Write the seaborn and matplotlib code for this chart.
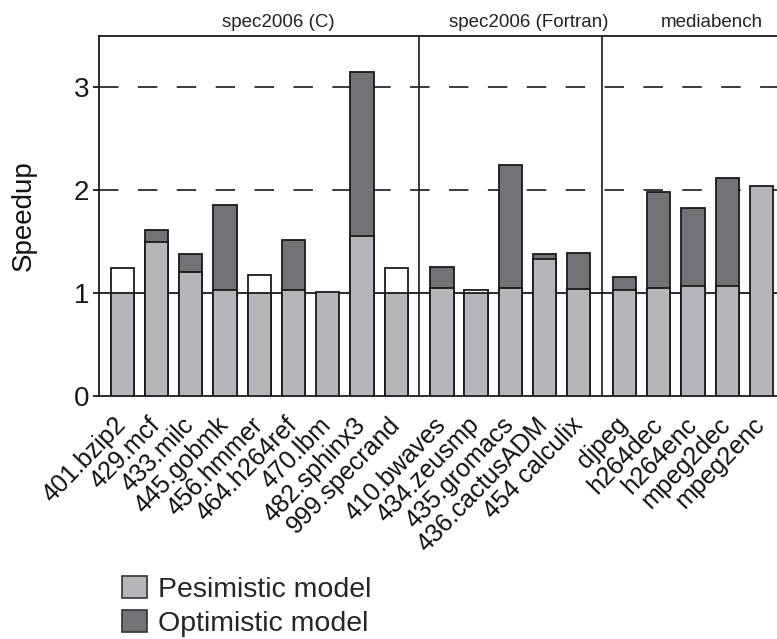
import numpy as np
import pandas as pd
import seaborn as sns
import matplotlib.pyplot as plt
import matplotlib.transforms as mtransforms
from matplotlib.patches import Patch

sns.set_theme(style="white")
plt.rcParams["font.family"] = ["Liberation Sans", "DejaVu Sans"]

# benchmarks, grouped by suite
GROUPS = ["spec2006 (C)", "spec2006 (Fortran)", "mediabench"]
BENCH_C = ["401.bzip2", "429.mcf", "433.milc", "445.gobmk", "456.hmmer",
           "464.h264ref", "470.lbm", "482.sphinx3", "999.specrand"]
BENCH_F = ["410.bwaves", "434.zeusmp", "435.gromacs", "436.cactusADM", "454 calculix"]
BENCH_M = ["djpeg", "h264dec", "h264enc", "mpeg2dec", "mpeg2enc"]

# speedups
PESSIMISTIC = [1.00, 1.50, 1.21, 1.03, 1.00, 1.03, 1.01, 1.56, 1.00,
               1.05, 1.00, 1.05, 1.33, 1.04,
               1.03, 1.05, 1.07, 1.07, 2.04]
OPTIMISTIC = [np.nan, 1.61, 1.38, 1.86, np.nan, 1.52, np.nan, 3.15, np.nan,
              1.25, np.nan, 2.25, 1.38, 1.39,
              1.16, 1.98, 1.83, 2.12, np.nan]
# unfilled (white) bar tops, not in the legend
UPPER = [1.24, np.nan, np.nan, np.nan, 1.18, np.nan, np.nan, np.nan, 1.24,
         np.nan, 1.03, np.nan, np.nan, np.nan,
         np.nan, np.nan, np.nan, np.nan, np.nan]

LIGHT = "#b5b6ba"
DARK = "#727377"
EDGE = "#1a1a1a"
GAP = 1 / 3

# bar positions: one unit per bar, extra gap between suites
benches, pos, suite = [], [], []
offset = 0.0
for g, names in zip(GROUPS, [BENCH_C, BENCH_F, BENCH_M]):
    for i, n in enumerate(names):
        benches.append(n)
        pos.append(offset + i)
        suite.append(g)
    offset += len(names) + GAP

df = pd.DataFrame({"bench": benches, "x": np.round(pos, 3), "suite": suite,
                   "pess": PESSIMISTIC, "opt": OPTIMISTIC, "upper": UPPER})
# missing layers become zero-height bars hidden behind the front bars
df[["opt", "upper"]] = df[["opt", "upper"]].fillna(0)

fig = plt.figure(figsize=(7.77, 6.39), dpi=100)
ax = fig.add_axes([99 / 777, 1 - 396 / 639, 1 - 99 / 777, (396 - 36) / 639])

bar_kw = dict(native_scale=True, errorbar=None, width=0.68, edgecolor=EDGE,
              linewidth=1.3, saturation=1, ax=ax, zorder=3)
sns.barplot(data=df, x="x", y="upper", color="white", **bar_kw)
sns.barplot(data=df, x="x", y="opt", color=DARK, **bar_kw)
sns.barplot(data=df, x="x", y="pess", color=LIGHT, **bar_kw)

# reference lines
ax.axhline(1, color=EDGE, lw=1.3, zorder=1)
for yv in [2, 3]:
    ax.axhline(yv, color="#3a3a3a", lw=1.4, ls=(0, (10, 10)), zorder=1)

# suite separators and labels
x = df["x"].to_numpy()
ends = np.cumsum([len(BENCH_C), len(BENCH_F)])
for e in ends:
    ax.axvline((x[e - 1] + x[e]) / 2, color=EDGE, lw=1.2, zorder=2)
starts = [0, ends[0], ends[1]]
stops = [ends[0], ends[1], len(x)]
for g, s, t in zip(GROUPS, starts, stops):
    ax.text((x[s] + x[t - 1]) / 2 + 0.55, 3.63, g, ha="center", va="center",
            fontsize=13.5, color="#222222")

ax.set_xlim(-0.68, 19.12)
ax.set_ylim(0, 3.5)
ax.set_yticks([0, 1, 2, 3])
ax.set_yticklabels(["0", "1", "2", "3"], fontsize=20)
ax.tick_params(axis="y", direction="out", length=4, width=1.3, pad=3,
               colors=EDGE, left=True)
ax.set_xticks(x)
ax.set_xticklabels(benches, rotation=46, ha="right", rotation_mode="anchor",
                   fontsize=18, color="#111111")
ax.tick_params(axis="x", length=0, pad=12)
shift = mtransforms.ScaledTranslation(-9 / 100, 0, fig.dpi_scale_trans)
for lab in ax.get_xticklabels():
    lab.set_transform(lab.get_transform() + shift)
ax.set_xlabel("")
ax.set_ylabel("Speedup", fontsize=20, labelpad=27, color="#111111")

for side in ["left", "top", "bottom"]:
    ax.spines[side].set_color(EDGE)
    ax.spines[side].set_linewidth(1.3)
ax.spines["right"].set_visible(False)

handles = [Patch(facecolor=LIGHT, edgecolor="#333333", lw=1.2),
           Patch(facecolor=DARK, edgecolor="#333333", lw=1.2)]
fig.legend(handles, ["Pesimistic model", "Optimistic model"], loc="upper left",
           bbox_to_anchor=(122 / 777, 1 - 576 / 639), frameon=False, fontsize=20.5,
           handlelength=0.88, handleheight=0.8, handletextpad=0.4,
           labelspacing=0.25, borderpad=0, borderaxespad=0)

fig.savefig("out.png", dpi=100)
